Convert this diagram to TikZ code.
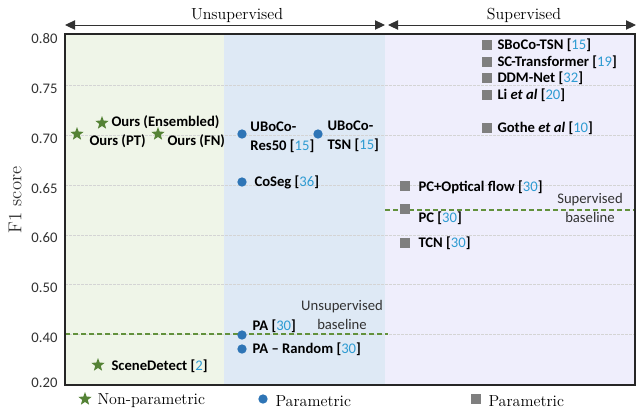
\documentclass[tikz,border=0pt]{standalone}
\usepackage{fontspec}
\setsansfont{Carlito}
\usetikzlibrary{shapes.geometric,arrows.meta}

\definecolor{greenzone}{RGB}{239,245,232}
\definecolor{bluezone}{RGB}{222,233,245}
\definecolor{violetzone}{RGB}{239,238,252}
\definecolor{stargreen}{RGB}{84,130,53}
\definecolor{basegreen}{RGB}{98,145,60}
\definecolor{dotblue}{RGB}{46,117,182}
\definecolor{boxgray}{RGB}{127,127,127}
\definecolor{citeblue}{RGB}{46,155,210}
\definecolor{gridgray}{RGB}{212,212,212}
\definecolor{framegray}{RGB}{38,38,38}
\definecolor{textgray}{RGB}{50,50,50}

\newcommand{\refnum}[1]{[{\mdseries\color{citeblue}#1}]}

\tikzset{every picture/.style={line width=0.75pt}}
\tikzset{
  nonparam/.style={star, star points=5, star point ratio=2.4, fill=stargreen, inner sep=0pt, minimum size=10.5pt},
  paramdot/.style={circle, fill=dotblue, inner sep=0pt, minimum size=7pt},
  parambox/.style={rectangle, fill=boxgray, inner sep=0pt, minimum size=7.5pt},
  methodlbl/.style={anchor=west, inner sep=0.75pt, align=left, font=\sffamily\bfseries\fontsize{11}{14}\selectfont},
  ticklbl/.style={anchor=east, inner sep=0.75pt, text=textgray, font=\sffamily\fontsize{11}{12}\selectfont},
  gridline/.style={gridgray, line width=0.5pt, dash pattern=on 2pt off 1pt},
  baseline/.style={basegreen, line width=1.1pt, dash pattern=on 4pt off 2pt},
  notelbl/.style={align=center, inner sep=0.75pt, text=textgray, font=\sffamily\fontsize{11}{14}\selectfont},
  headlbl/.style={inner sep=0.75pt, font=\fontsize{12}{14}\selectfont},
  spanarrow/.style={textgray, {Triangle[length=7.5pt,width=7pt]}-{Triangle[length=7.5pt,width=7pt]}}
}

\begin{document}
\begin{tikzpicture}[x=0.75pt,y=0.75pt,yscale=-1,xscale=1]
\useasboundingbox (0,0) rectangle (637,412);

%Shaded zones
\fill [greenzone] (65,34) rectangle (224,385);
\fill [bluezone] (224,34) rectangle (385,385);
\fill [violetzone] (385,34) rectangle (635,385);

%Grid lines
\coordinate (g75l) at (65,85);  \coordinate (g75r) at (635,85);
\coordinate (g70l) at (65,135); \coordinate (g70r) at (635,135);
\coordinate (g65l) at (65,185); \coordinate (g65r) at (635,185);
\coordinate (g60l) at (65,235); \coordinate (g60r) at (635,235);
\coordinate (g50l) at (65,284); \coordinate (g50r) at (635,284);
\coordinate (g40l) at (65,334); \coordinate (g40r) at (635,334);
\draw [gridline] (g75l) -- (g75r);
\draw [gridline] (g70l) -- (g70r);
\draw [gridline] (g65l) -- (g65r);
\draw [gridline] (g60l) -- (g60r);
\draw [gridline] (g50l) -- (g50r);
\draw [gridline] (g40l) -- (g40r);

%Baselines
\coordinate (ubasel) at (65,334);  \coordinate (ubaser) at (388,334);
\coordinate (sbasel) at (385,210); \coordinate (sbaser) at (635,210);
\draw [baseline] (ubasel) -- (ubaser);
\draw [baseline] (sbasel) -- (sbaser);

%Frame
\draw [framegray, line width=1.6pt] (65,34) rectangle (635,385);

%Span arrows
\coordinate (unsupl) at (65,25);  \coordinate (unsupr) at (385,25);
\coordinate (supl) at (388,25);   \coordinate (supr) at (636,25);
\draw [spanarrow] (unsupl) -- (unsupr);
\draw [spanarrow] (supl) -- (supr);

% Text Node
\draw (237,15) node (unsuphead) [headlbl] {Unsupervised};
% Text Node
\draw (524,15) node (suphead) [headlbl] {Supervised};

% Tick labels
\draw (59,39) node (t80) [ticklbl] {0.80};
\draw (59,89) node (t75) [ticklbl] {0.75};
\draw (59,139) node (t70) [ticklbl] {0.70};
\draw (59,189) node (t65) [ticklbl] {0.65};
\draw (59,238) node (t60) [ticklbl] {0.60};
\draw (59,288) node (t50) [ticklbl] {0.50};
\draw (59,338) node (t40) [ticklbl] {0.40};
\draw (59,383) node (t20) [ticklbl] {0.20};
% Axis title
\draw (15,200) node (ytitle) [rotate=90, inner sep=0.75pt, text=textgray, font=\fontsize{14}{16}\selectfont] {F1 score};

%Non-parametric methods
\draw (77,134) node (ptstar) [nonparam] {};
\draw (88,141) node (ptlbl) [methodlbl] {Ours (PT)};
\draw (102,123) node (ensstar) [nonparam] {};
\draw (110,122) node (enslbl) [methodlbl] {Ours (Ensembled)};
\draw (158,134) node (fnstar) [nonparam] {};
\draw (166,141) node (fnlbl) [methodlbl] {Ours (FN)};
\draw (98,365) node (sdstar) [nonparam] {};
\draw (110,366) node (sdlbl) [methodlbl] {SceneDetect \refnum{2}};

%Unsupervised parametric methods
\draw (242,134) node (resdot) [paramdot] {};
\draw (249,137) node (reslbl) [methodlbl] {UBoCo-\\Res50 \refnum{15}};
\draw (318,134) node (tsndot) [paramdot] {};
\draw (326,136) node (tsnlbl) [methodlbl] {UBoCo-\\TSN \refnum{15}};
\draw (242,182) node (cosegdot) [paramdot] {};
\draw (253,182) node (coseglbl) [methodlbl] {CoSeg \refnum{36}};
\draw (242,335) node (padot) [paramdot] {};
\draw (251,326) node (palbl) [methodlbl] {PA \refnum{30}};
\draw (242,349) node (pardot) [paramdot] {};
\draw (251,349) node (parlbl) [methodlbl] {PA -- Random \refnum{30}};
\draw (342,315) node (unsupnote) [notelbl] {Unsupervised\\baseline};

%Supervised methods
\draw (487,45) node (sbocobox) [parambox] {};
\draw (496,45) node (sbocolbl) [methodlbl] {SBoCo-TSN \refnum{15}};
\draw (487,62) node (sctbox) [parambox] {};
\draw (496,62) node (sctlbl) [methodlbl] {SC-Transformer \refnum{19}};
\draw (487,78) node (ddmbox) [parambox] {};
\draw (496,78) node (ddmlbl) [methodlbl] {DDM-Net \refnum{32}};
\draw (487,95) node (libox) [parambox] {};
\draw (496,95) node (lilbl) [methodlbl] {Li \textit{et al} \refnum{20}};
\draw (487,128) node (gothebox) [parambox] {};
\draw (496,128) node (gothelbl) [methodlbl] {Gothe \textit{et al} \refnum{10}};
\draw (405,186) node (pcofbox) [parambox] {};
\draw (417,187) node (pcoflbl) [methodlbl] {PC+Optical flow \refnum{30}};
\draw (405,209) node (pcbox) [parambox] {};
\draw (417,218) node (pclbl) [methodlbl] {PC \refnum{30}};
\draw (405,243) node (tcnbox) [parambox] {};
\draw (417,243) node (tcnlbl) [methodlbl] {TCN \refnum{30}};
\draw (590,208) node (supnote) [notelbl] {Supervised\\baseline};

%Legend
\draw (85,399) node (legstar) [nonparam] {};
\draw (96,401) node (leglbla) [anchor=west, inner sep=0.75pt, font=\fontsize{12}{14}\selectfont] {Non-parametric};
\draw (263,399) node (legdot) [paramdot] {};
\draw (274,401) node (leglblb) [anchor=west, inner sep=0.75pt, font=\fontsize{12}{14}\selectfont] {Parametric};
\draw (476,399) node (legbox) [parambox] {};
\draw (487,401) node (leglblc) [anchor=west, inner sep=0.75pt, font=\fontsize{12}{14}\selectfont] {Parametric};

\end{tikzpicture}
\end{document}
